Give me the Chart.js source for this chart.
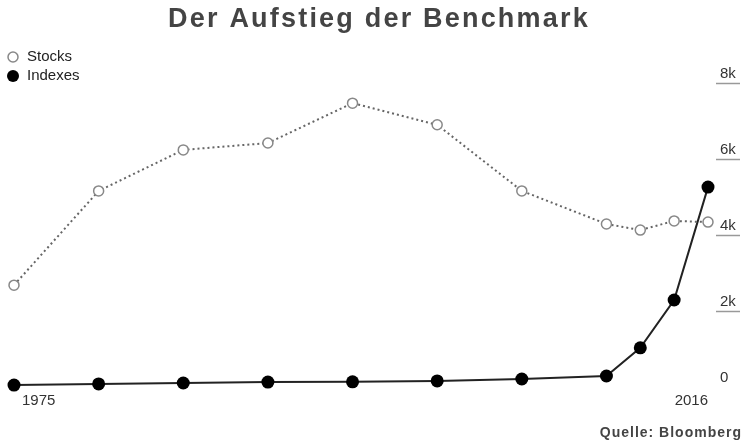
<!DOCTYPE html>
<html>
<head>
<meta charset="utf-8">
<script src="https://cdn.jsdelivr.net/npm/chart.js@4.4.0/dist/chart.umd.min.js"></script>
<style>
  html, body { margin: 0; padding: 0; background: #fff; }
  #wrap { width: 750px; height: 448px; }
</style>
</head>
<body>
<div id="wrap"><canvas id="grafico" width="750" height="448"></canvas></div>
<script>
// Datos
const anios = [1975, 1980, 1985, 1990, 1995, 2000, 2005, 2010, 2012, 2014, 2016];
const acciones = [2680, 5160, 6240, 6420, 7470, 6900, 5160, 4290, 4130, 4370, 4340];
const indices = [50, 80, 105, 130, 135, 160, 210, 290, 1030, 2290, 5260];
const ticksY = [0, 2000, 4000, 6000, 8000];
const etiquetasX = [1975, 2016];

const titulo = 'Der Aufstieg der Benchmark';
const fuente = 'Quelle: Bloomberg';

// textos, leyenda y subrayados de las etiquetas
const decoracion = {
  id: 'decoracion',
  afterDraw(chart) {
    const ctx = chart.ctx;
    const x = chart.scales.x, y = chart.scales.y;
    ctx.save();

    // título
    ctx.fillStyle = '#444';
    ctx.font = 'bold 27px "Liberation Sans", Arial, sans-serif';
    ctx.letterSpacing = '2.2px';
    ctx.textAlign = 'center';
    ctx.textBaseline = 'middle';
    ctx.fillText(titulo, 379, 20);

    // fuente
    ctx.font = 'bold 14px "Liberation Sans", Arial, sans-serif';
    ctx.letterSpacing = '1px';
    ctx.textAlign = 'right';
    ctx.fillText(fuente, 742, 433);
    ctx.letterSpacing = '0px';

    // leyenda
    ctx.font = '15px "Liberation Sans", Arial, sans-serif';
    ctx.textAlign = 'left';
    ctx.fillStyle = '#222';
    ctx.fillText('Stocks', 27, 57);
    ctx.fillText('Indexes', 27, 76);
    ctx.beginPath();
    ctx.arc(13, 57, 5, 0, Math.PI * 2);
    ctx.fillStyle = '#fff';
    ctx.fill();
    ctx.lineWidth = 1.5;
    ctx.strokeStyle = '#888';
    ctx.stroke();
    ctx.beginPath();
    ctx.arc(13, 76, 6, 0, Math.PI * 2);
    ctx.fillStyle = '#000';
    ctx.fill();

    // subrayados bajo las etiquetas del eje y
    ctx.strokeStyle = '#999';
    ctx.lineWidth = 1.5;
    ticksY.forEach(v => {
      if (v === 0) return;
      const py = Math.round(y.getPixelForValue(v)) + 0.5;
      ctx.beginPath();
      ctx.moveTo(716, py);
      ctx.lineTo(740, py);
      ctx.stroke();
    });

    // etiquetas del eje x
    ctx.fillStyle = '#333';
    ctx.font = '15px "Liberation Sans", Arial, sans-serif';
    const by = y.getPixelForValue(0) + 14;
    ctx.textAlign = 'left';
    ctx.fillText(String(etiquetasX[0]), x.getPixelForValue(etiquetasX[0]) + 8, by);
    ctx.textAlign = 'right';
    ctx.fillText(String(etiquetasX[1]), x.getPixelForValue(etiquetasX[1]), by);
    ctx.restore();
  }
};

const grafico = new Chart(document.getElementById('grafico'), {
  type: 'line',
  data: {
    labels: anios,
    datasets: [
      {
        label: 'Stocks',
        data: anios.map((a, i) => ({ x: a, y: acciones[i] })),
        borderColor: '#666',
        borderWidth: 2,
        borderDash: [2, 3],
        pointRadius: 5,
        pointBorderWidth: 1.5,
        pointBorderColor: '#888',
        pointBackgroundColor: '#fff',
        tension: 0
      },
      {
        label: 'Indexes',
        data: anios.map((a, i) => ({ x: a, y: indices[i] })),
        borderColor: '#222',
        borderWidth: 2,
        pointRadius: 6.5,
        pointBorderWidth: 0,
        pointBackgroundColor: '#000',
        tension: 0
      }
    ]
  },
  options: {
    responsive: false,
    animation: false,
    clip: false,
    layout: { padding: { left: 14, top: 83, bottom: 61, right: 0 } },
    plugins: {
      legend: { display: false },
      title: { display: false },
      tooltip: { enabled: false }
    },
    scales: {
      x: {
        type: 'linear',
        min: 1975,
        max: 2016,
        display: false
      },
      y: {
        position: 'right',
        min: 0,
        max: 8000,
        afterFit(scale) { scale.width = 42; },
        afterBuildTicks(scale) { scale.ticks = ticksY.map(v => ({ value: v })); },
        grid: { display: false, drawTicks: false },
        border: { display: false },
        ticks: {
          padding: 12,
          labelOffset: -9,
          color: '#333',
          font: { size: 15, family: '"Liberation Sans", Arial, sans-serif' },
          callback: v => v === 0 ? '0' : (v / 1000) + 'k'
        }
      }
    }
  },
  plugins: [decoracion]
});
</script>
</body>
</html>
